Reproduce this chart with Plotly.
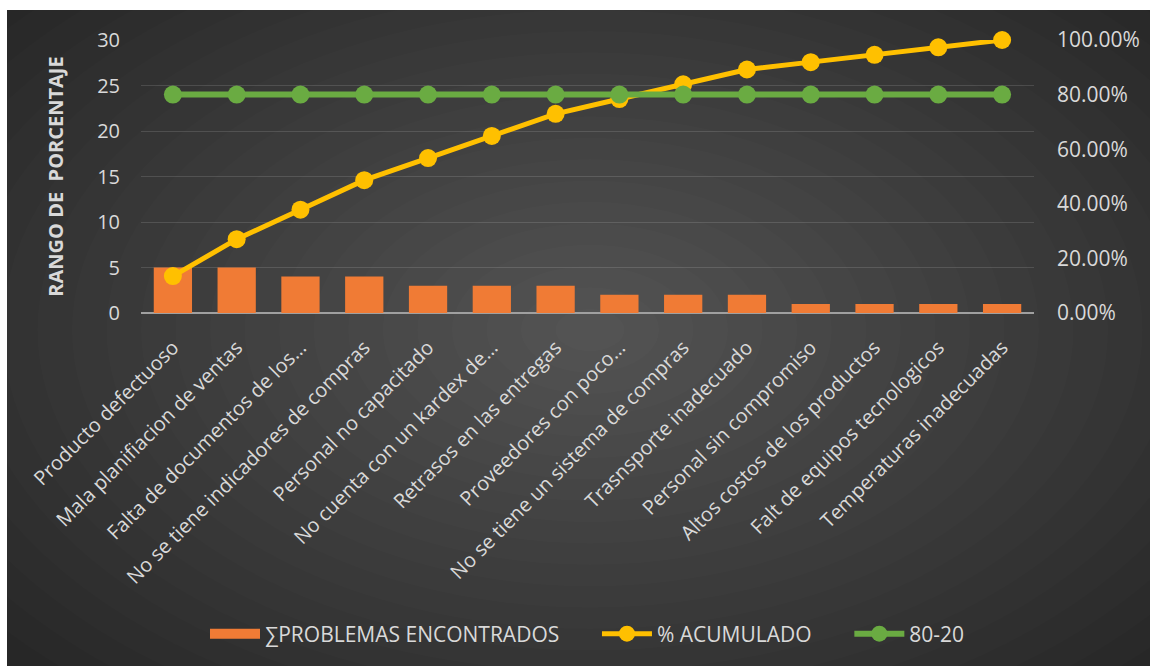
import plotly.graph_objects as go

categorias = [
    "Producto defectuoso",
    "Mala planifiacion de ventas",
    "Falta de documentos de los…",
    "No se tiene indicadores de compras",
    "Personal no capacitado",
    "No cuenta con un kardex de…",
    "Retrasos en las entregas",
    "Proveedores con poco…",
    "No se tiene un sistema de compras",
    "Trasnsporte inadecuado",
    "Personal sin compromiso",
    "Altos costos de los productos",
    "Falt de equipos tecnologicos",
    "Temperaturas inadecuadas",
]
problemas = [5, 5, 4, 4, 3, 3, 3, 2, 2, 2, 1, 1, 1, 1]
acumulado = [0.1351, 0.2703, 0.3784, 0.4865, 0.5676, 0.6486, 0.7297,
             0.7838, 0.8378, 0.8919, 0.9189, 0.9459, 0.9730, 1.0]
linea_80_20 = [0.8, 0.8, 0.8, 0.8, 0.8, 0.8, 0.8, 0.8, 0.8, 0.8, 0.8, 0.8, 0.8, 0.8]

W, H = 1150, 666
L, R, T, B = 141, 1034, 40, 313  # plot area in pixels

def px(x):
    return (x - L) / (R - L)

def py(y):
    return (B - y) / (B - T)

TXT = "#d9d9d9"
FONT = "Open Sans"
ORANGE = "#F07B35"
PAD = "\u00a0" * 6

fig = go.Figure()
fig.add_trace(go.Bar(
    x=categorias, y=problemas, name="∑PROBLEMAS ENCONTRADOS",
    marker=dict(color=ORANGE, line=dict(width=0)),
    yaxis="y", showlegend=False,
))
# legend entry drawn as a wide swatch
fig.add_trace(go.Scatter(
    x=[None], y=[None], name="∑PROBLEMAS ENCONTRADOS" + PAD, mode="lines",
    line=dict(color=ORANGE, width=12), yaxis="y",
))
fig.add_trace(go.Scatter(
    x=categorias, y=acumulado, name="% ACUMULADO" + PAD, mode="lines+markers",
    line=dict(color="#FFC000", width=5),
    marker=dict(color="#FFC000", size=18),
    yaxis="y2", cliponaxis=False,
))
fig.add_trace(go.Scatter(
    x=categorias, y=linea_80_20, name="80-20", mode="lines+markers",
    line=dict(color="#6AAB42", width=6),
    marker=dict(color="#6AAB42", size=18),
    yaxis="y2", cliponaxis=False,
))

shapes = [dict(type="rect", xref="paper", yref="paper", layer="below",
               x0=px(7), x1=px(1150), y0=py(666), y1=py(10),
               fillcolor="#272727", line=dict(width=0))]
cx, cy = 590, 330
n = 22
for i in range(n):
    f = 1 - i / n
    rx, ry = 760 * f, 470 * f
    shapes.append(dict(type="circle", xref="paper", yref="paper", layer="below",
                       x0=px(cx - rx), x1=px(cx + rx), y0=py(cy + ry), y1=py(cy - ry),
                       fillcolor="rgba(255,255,255,0.011)", line=dict(width=0)))

fig.update_layout(
    width=W, height=H,
    margin=dict(l=L, r=W - R, t=T, b=H - B, autoexpand=False),
    paper_bgcolor="white", plot_bgcolor="rgba(0,0,0,0)",
    font=dict(family=FONT, color=TXT, size=20),
    bargap=0.4,
    shapes=shapes,
    showlegend=True,
    legend=dict(orientation="h", x=0.5, xanchor="center", y=py(634), yanchor="middle",
                font=dict(size=21, color=TXT), bgcolor="rgba(0,0,0,0)",
                itemwidth=50, tracegroupgap=0),
    xaxis=dict(range=[-0.5, 13.5], tickangle=-45, tickfont=dict(size=20, color=TXT),
               showgrid=False, showline=False, ticks="", ticklabelstandoff=18),
    yaxis=dict(range=[0, 30], dtick=5, showgrid=True, gridcolor="rgba(255,255,255,0.13)",
               gridwidth=1, zeroline=True, zerolinecolor="#a0a0a0", zerolinewidth=2,
               tickfont=dict(size=20, color=TXT), ticklabelstandoff=20, showline=False,
               title=dict(text="RANGO DE  PORCENTAJE", font=dict(size=20, color=TXT,
                          family=FONT, weight="bold"), standoff=28)),
    yaxis2=dict(range=[0, 1], dtick=0.2, tickformat=".2%", overlaying="y", side="right",
                showgrid=False, zeroline=False, showline=False,
                tickfont=dict(size=21, color=TXT), ticklabelstandoff=22),
)

fig.write_html("out.html")
